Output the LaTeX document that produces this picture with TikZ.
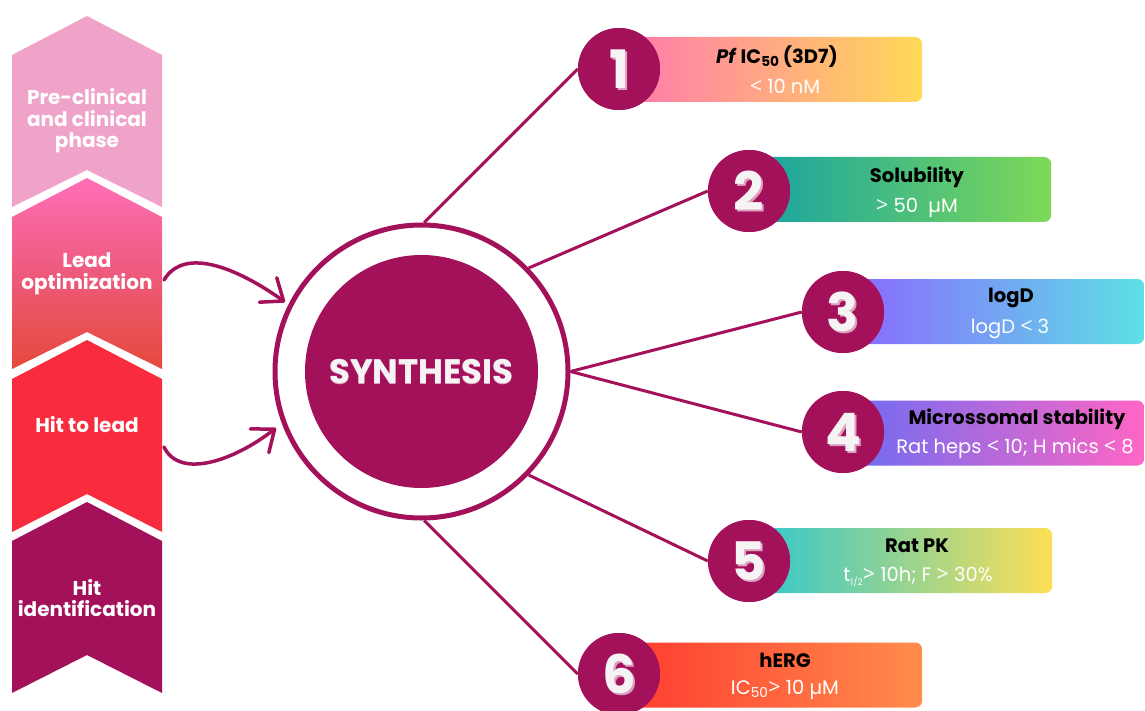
\documentclass[tikz,border=0pt]{standalone}
\usepackage{fontspec}
\usepackage{graphicx}
\setmainfont{Poppins}
\newfontfamily\signfont{Open Sans}
\usetikzlibrary{arrows.meta,shadings}

\definecolor{magenta}{HTML}{A3115A}
\definecolor{chevA}{HTML}{EFA3C9}
\definecolor{chevBtop}{HTML}{FF6FB7}
\definecolor{chevBmid}{HTML}{EE5A7C}
\definecolor{chevBbot}{HTML}{E5493A}
\definecolor{chevC}{HTML}{F92B3E}
\definecolor{digshadow}{HTML}{DDA2C0}
\definecolor{digwhite}{HTML}{F5F3F4}
\definecolor{bAl}{HTML}{FF78AF}\definecolor{bAr}{HTML}{FFDA57}
\definecolor{bBl}{HTML}{15A2A3}\definecolor{bBr}{HTML}{7ED957}
\definecolor{bCl}{HTML}{8C66FF}\definecolor{bCr}{HTML}{5CE1E6}
\definecolor{bDl}{HTML}{6C6CF2}\definecolor{bDr}{HTML}{FF66C4}
\definecolor{bEl}{HTML}{2CC7D0}\definecolor{bEr}{HTML}{FDDF55}
\definecolor{bFl}{HTML}{FF3A2F}\definecolor{bFr}{HTML}{FF8D4C}

% comparison signs for the threshold values
\newcommand{\ltsign}{{\signfont\scalebox{1.1}{<}}}
\newcommand{\gtsign}{{\signfont\scalebox{1.1}{>}}}
\newcommand{\tinysub}[1]{\raisebox{-0.25em}{\fontsize{9}{9}\selectfont #1}}

\begin{document}
\begin{tikzpicture}[x=1pt,y=-1pt,
  phase/.style={text=white, align=center, inner sep=0pt,
    font=\bfseries\fontsize{20}{21.5}\selectfont},
  spoke/.style={draw=magenta, line width=3pt},
  loop/.style={draw=magenta, line width=3.5pt, line cap=round,
    -{Straight Barb[length=19pt,width=30pt,round]}},
  numc/.style={circle, fill=magenta, minimum size=82pt, inner sep=0pt},
  digit/.style={text=digwhite, font=\bfseries\fontsize{53}{53}\selectfont, inner sep=0pt},
  digsh/.style={digit, text=digshadow},
  bar/.style={rectangle, rounded corners=7pt, minimum height=65pt,
    inner sep=0pt, anchor=west},
  ttl/.style={text=black, font=\bfseries\fontsize{19.5}{22}\selectfont, inner sep=0pt},
  val/.style={text=white, font=\fontsize{19.5}{21}\selectfont, inner sep=0pt}
]
\useasboundingbox (0,0) rectangle (1145,711);

% ---- stage chevrons ----
\fill[chevA] (12,55) -- (87,16) -- (162,55) -- (162,207) -- (87,170) -- (12,207) -- cycle;
\shade[top color=chevBtop, bottom color=chevBbot, middle color=chevBmid]
  (12,217) -- (87,178) -- (162,217) -- (162,369) -- (87,332) -- (12,369) -- cycle;
\fill[chevC] (12,379) -- (87,340) -- (162,379) -- (162,532) -- (87,494) -- (12,532) -- cycle;
\fill[magenta] (12,541) -- (87,502) -- (162,541) -- (162,693) -- (87,655) -- (12,693) -- cycle;

\node[phase] (ph1) at (87,121) {Pre-clinical\\and clinical\\phase};
\node[phase] (ph2) at (87,274) {Lead\\optimization};
\node[phase] (ph3) at (87,425) {Hit to lead};
\node[phase] (ph4) at (87,598) {Hit\\identification};

% ---- central synthesis ring ----
\node[circle, draw=magenta, line width=5pt, fill=white, minimum size=293pt,
  inner sep=0pt] (syn) at (421.5,371.5) {};
\node[circle, fill=magenta, minimum size=233pt, inner sep=0pt] (core) at (syn) {};
\node[text=digshadow, font=\bfseries\fontsize{34}{34}\selectfont, inner sep=0pt,
  yshift=-1.5pt] at (core) {SYNTHESIS};
\node[text=digwhite, font=\bfseries\fontsize{34}{34}\selectfont, inner sep=0pt]
  (syntxt) at (core) {SYNTHESIS};

% ---- looping arrows from the stages ----
\coordinate (a1s) at (164,280);
\coordinate (a1e) at (285,302);
\coordinate (a2s) at (164,447);
\coordinate (a2e) at (276,428);
\draw[loop] (a1s) .. controls (185,245) and (240,270) .. (a1e);
\draw[loop] (a2s) .. controls (180,480) and (235,460) .. (a2e);

% ---- criteria bars ----
\node[bar, left color=bAl, right color=bAr, minimum width=303pt] (bar1) at (619,69.5) {};
\node[bar, left color=bBl, right color=bBr, minimum width=302pt] (bar2) at (749,189.5) {};
\node[bar, left color=bCl, right color=bCr, minimum width=301pt] (bar3) at (843,311.5) {};
\node[bar, left color=bDl, right color=bDr, minimum width=301pt] (bar4) at (843,433) {};
\node[bar, left color=bEl, right color=bEr, minimum width=303pt] (bar5) at (749,560.5) {};
\node[bar, left color=bFl, right color=bFr, minimum width=303pt] (bar6) at (619,675) {};

% ---- numbered circles ----
\node[numc] (n1) at (619,69) {};
\node[numc] (n2) at (749,191) {};
\node[numc] (n3) at (843,312) {};
\node[numc] (n4) at (843,432) {};
\node[numc] (n5) at (749,561) {};
\node[numc] (n6) at (619,674) {};

% ---- spokes from the ring ----
\draw[spoke] (syn.89) -- (n1.west);
\draw[spoke] (syn.44) -- (n2.west);
\draw[spoke] (syn.0) -- (n3.west);
\draw[spoke] (syn.0) -- (n4.west);
\draw[spoke] (syn.-44) -- (n5.west);
\draw[spoke] (syn.-89) -- (n6.west);

% redraw circles over the spoke ends
\foreach \n in {n1,n2,n3,n4,n5,n6}{ \fill[magenta] (\n) circle[radius=41pt]; }

\foreach \n/\d in {n1/1,n2/2,n3/3,n4/4,n5/5,n6/6}{
  \node[digsh, xshift=2pt, yshift=-2pt] at (\n) {\d};
  \node[digit] at (\n) {\d};
}

% ---- bar texts ----
\node[ttl] (t1) at (777,57) {\textit{Pf} IC\textsubscript{50}\,(3D7)};
\node[val] (v1) at (785,86) {\ltsign{} 10 nM};
\node[ttl] (t2) at (917,177) {Solubility};
\node[val] (v2) at (917,208) {\gtsign{} 50~~µM};
\node[ttl] (t3) at (1011,298) {logD};
\node[val] (v3) at (1010,329) {logD \ltsign{} 3};
\node[ttl] (t4) at (1017,419) {Microssomal stability};
\node[val] (v4) at (1015,449) {Rat heps \ltsign{} 10; H mics \ltsign{} 8};
\node[ttl] (t5) at (917,546) {Rat PK};
\node[val] (v5) at (918,577) {t\tinysub{1/2}\gtsign{} 10h; F \gtsign{} 30\%};
\node[ttl] (t6) at (785,660) {hERG};
\node[val] (v6) at (785,690) {IC\textsubscript{50}\gtsign{} 10 µM};
\end{tikzpicture}
\end{document}
